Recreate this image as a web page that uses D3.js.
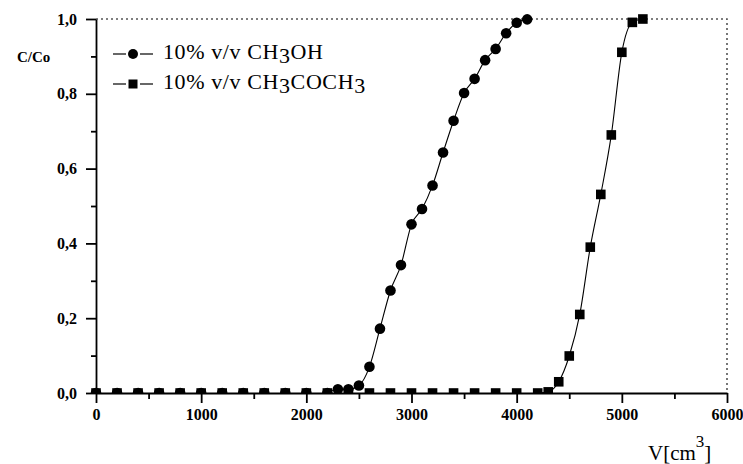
<!DOCTYPE html>
<html><head><meta charset="utf-8">
<script src="https://cdn.jsdelivr.net/npm/d3@7"></script>
<style>body{margin:0;background:#fff}</style>
</head><body><svg id="c" width="743" height="464"></svg>
<script>
const methanolV = [0,200,400,600,800,1000,1200,1400,1600,1800,2000,2200,2300,2400,2500,2600,2700,2800,2900,3000,3100,3200,3300,3400,3500,3600,3700,3800,3900,4000,4100];
const methanolC = [0,0,0,0,0,0,0,0,0,0,0,0,0.01,0.01,0.02,0.07,0.172,0.274,0.342,0.451,0.492,0.555,0.643,0.728,0.802,0.840,0.890,0.920,0.962,0.990,0.999];
const acetoneV = [0,200,400,600,800,1000,1200,1400,1600,1800,2000,2200,2400,2600,2800,3000,3200,3400,3600,3800,4000,4200,4300,4400,4500,4600,4700,4800,4900,5000,5100,5200];
const acetoneC = [0,0,0,0,0,0,0,0,0,0,0,0,0,0,0,0,0,0,0,0,0,0,0.003,0.03,0.099,0.21,0.39,0.531,0.69,0.911,0.991,1.0];
const xTicks = [0,1000,2000,3000,4000,5000,6000];
const yTicks = [0,0.2,0.4,0.6,0.8,1.0];
const legendLabels = [["10% v/v CH","3","OH"],["10% v/v CH","3","COCH","3"]];

const svg = d3.select("#c");
const L=96, R=727, T=19, B=393;
const x = d3.scaleLinear().domain([0,6000]).range([L,R]);
const y = d3.scaleLinear().domain([0,1]).range([B,T]);
const font = "'Liberation Serif', 'Times New Roman', serif";

svg.append("defs").append("clipPath").attr("id","clip").append("rect")
  .attr("x",L-8).attr("y",T-8).attr("width",R-L+16).attr("height",B-T+8);

// dotted frame
svg.append("path").attr("d",`M${L},${T}H${R}V${B}`).attr("fill","none")
  .attr("stroke","#555").attr("stroke-width",1.6).attr("stroke-dasharray","2,3");

// x axis
const xAxis = d3.axisBottom(x).tickValues(xTicks).tickFormat(d3.format("d")).tickSize(10).tickSizeOuter(0).tickPadding(6);
const gx = svg.append("g").attr("transform",`translate(0,${B})`).call(xAxis);
const xMinor = d3.axisBottom(x).tickValues(d3.range(500,6000,1000)).tickFormat("").tickSize(6).tickSizeOuter(0);
svg.append("g").attr("transform",`translate(0,${B})`).call(xMinor).select(".domain").remove();
// y axis
const yAxis = d3.axisLeft(y).tickValues(yTicks).tickFormat(d=>d3.format(".1f")(d).replace(".",",")).tickSize(10).tickSizeOuter(0).tickPadding(9);
const gy = svg.append("g").attr("transform",`translate(${L},0)`).call(yAxis);
const yMinor = d3.axisLeft(y).tickValues([0.1,0.3,0.5,0.7,0.9]).tickFormat("").tickSize(5).tickSizeOuter(0);
svg.append("g").attr("transform",`translate(${L},0)`).call(yMinor).select(".domain").remove();
svg.selectAll(".domain, .tick line").attr("stroke","#000").attr("stroke-width",1.8);
svg.selectAll("g").attr("font-family",null).attr("font-size",null);
svg.selectAll(".tick text").style("font-family",font).style("font-weight","bold").style("font-size","16px").attr("fill","#000");
gx.selectAll(".tick text").attr("dy","0.71em");

// lines
const line = d3.line().x(d=>x(d[0])).y(d=>y(d[1])).curve(d3.curveMonotoneX);
const mData = methanolV.map((v,i)=>[v,methanolC[i]]);
const aData = acetoneV.map((v,i)=>[v,acetoneC[i]]);
svg.append("path").datum(mData.filter(d=>d[0]>=2200)).attr("d",line).attr("fill","none").attr("stroke","#000").attr("stroke-width",1.1);
svg.append("path").datum(aData.filter(d=>d[0]>=4200)).attr("d",line).attr("fill","none").attr("stroke","#000").attr("stroke-width",1.1);

const mk = svg.append("g").attr("clip-path","url(#clip)");
mk.selectAll("rect.a").data(aData).join("rect").attr("class","a")
  .attr("x",d=>x(d[0])-4.8).attr("y",d=>y(d[1])-4.8).attr("width",9.6).attr("height",9.6).attr("fill","#000");
mk.selectAll("circle.m").data(mData).join("circle").attr("class","m")
  .attr("cx",d=>x(d[0])).attr("cy",d=>y(d[1])).attr("r",5.3).attr("fill","#000");

// legend
const lg = svg.append("g");
[54,84].forEach((ly,i)=>{
  lg.append("line").attr("x1",113).attr("x2",126).attr("y1",ly).attr("y2",ly).attr("stroke","#000").attr("stroke-width",1.2);
  lg.append("line").attr("x1",140).attr("x2",153).attr("y1",ly).attr("y2",ly).attr("stroke","#000").attr("stroke-width",1.2);
  if(i===0) lg.append("circle").attr("cx",133).attr("cy",ly).attr("r",5).attr("fill","#000");
  else lg.append("rect").attr("x",128.5).attr("y",ly-4.5).attr("width",9).attr("height",9).attr("fill","#000");
  const t = lg.append("text").attr("x",163).attr("y",ly+4.5).style("font-family",font).style("font-size","22px").style("letter-spacing","0.6px").attr("fill","#000");
  legendLabels[i].forEach((s,j)=>{
    const ts = t.append("tspan").text(s);
    if(j%2===1) ts.attr("dy",4);
    else if(j>0) ts.attr("dy",-4);
  });
});

// axis titles
svg.append("text").attr("x",17).attr("y",62).style("font-family",font).style("font-weight","bold").style("font-size","15px").text("C/Co");
const vt = svg.append("text").attr("x",648).attr("y",460).style("font-family",font).style("font-size","21px");
vt.append("tspan").text("V[cm");
vt.append("tspan").attr("dy",-13).style("font-size","17px").text("3");
vt.append("tspan").attr("dy",13).text("]");
</script></body></html>
